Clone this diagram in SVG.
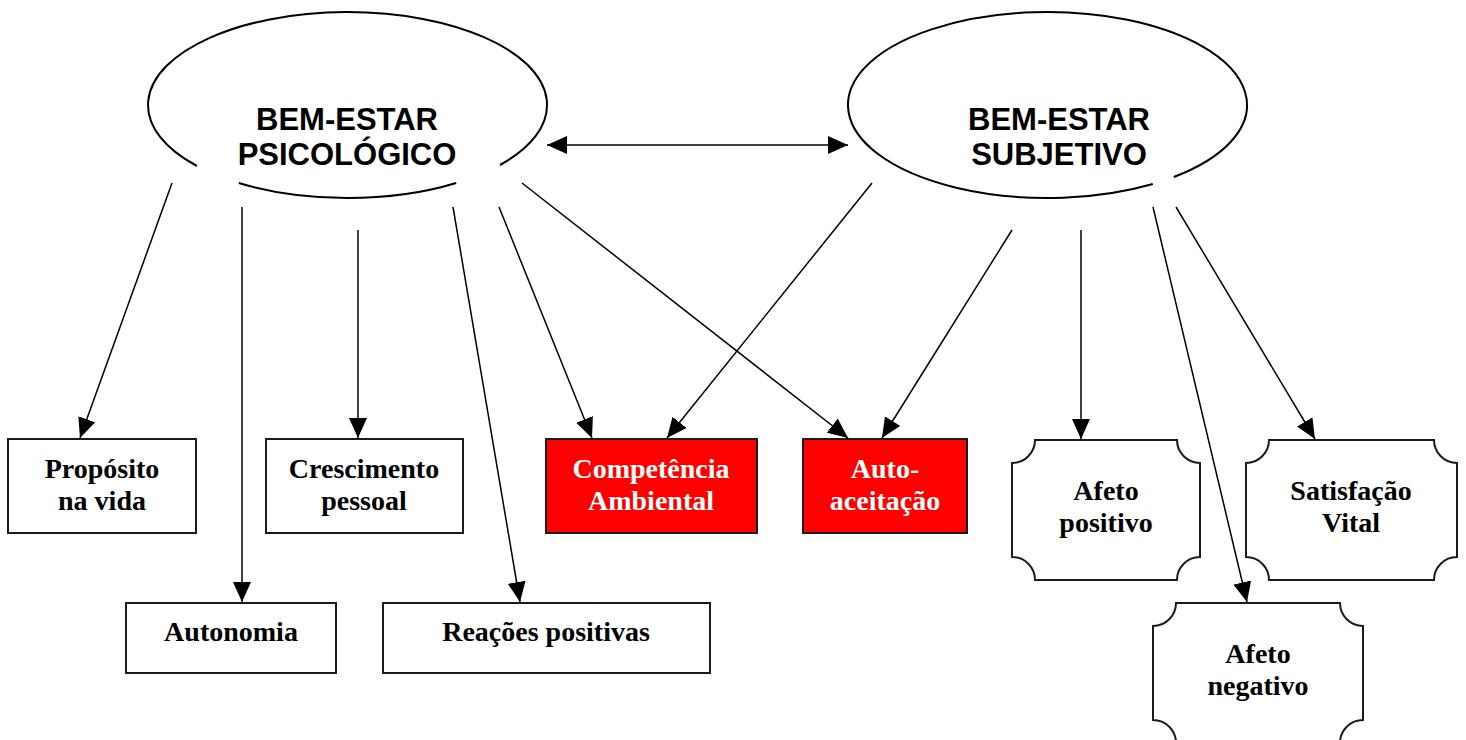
<svg xmlns="http://www.w3.org/2000/svg" width="1466" height="740" viewBox="0 0 1466 740">
<style>
.ell{fill:none;stroke:#000;stroke-width:2}
.box{fill:#fff;stroke:#1a1a1a;stroke-width:2}
.red{fill:#ff0000;stroke:#1a1a1a;stroke-width:2}
.ht{font-family:"Liberation Sans",Arial,sans-serif;font-weight:bold;font-size:31px;fill:#000;text-anchor:middle}
.bt{font-family:"Liberation Serif","Times New Roman",serif;font-weight:bold;font-size:28px;fill:#000;text-anchor:middle}
.wt{fill:#fff}
.con line{stroke:#000;stroke-width:1.5;marker-end:url(#ah)}
</style>
<defs>
<marker id="ah" viewBox="0 0 20 18" refX="20" refY="9" markerWidth="20" markerHeight="18" markerUnits="userSpaceOnUse" orient="auto-start-reverse">
<path d="M0,0 L20,9 L0,18 Z" fill="#000"/>
</marker>
</defs>
<rect width="1466" height="740" fill="#fff"/>
<g id="psicologico">
<path class="ell" d="M500,165 A199.5,93 0 1 0 196.9,166"/>
<path class="ell" d="M238.8,183 A199.5,93 0 0 0 456.2,183"/>
<text class="ht" x="347" y="130">BEM-ESTAR</text>
<text class="ht" x="347" y="165">PSICOLÓGICO</text>
</g>
<g id="subjetivo">
<path class="ell" d="M1173.8,177 A199.5,93 0 1 0 1152.8,184"/>
<text class="ht" x="1059" y="130">BEM-ESTAR</text>
<text class="ht" x="1059" y="165">SUBJETIVO</text>
</g>
<g id="proposito">
<rect class="box" x="8" y="439" width="188" height="94"/>
<text class="bt" x="102" y="478">Propósito</text>
<text class="bt" x="102" y="510">na vida</text>
</g>
<g id="crescimento">
<rect class="box" x="266" y="439" width="197" height="94"/>
<text class="bt" x="364" y="478">Crescimento</text>
<text class="bt" x="364" y="510">pessoal</text>
</g>
<g id="autonomia">
<rect class="box" x="126" y="603" width="210" height="70"/>
<text class="bt" x="231" y="641">Autonomia</text>
</g>
<g id="reacoes">
<rect class="box" x="383" y="603" width="327" height="70"/>
<text class="bt" x="546" y="641">Reações positivas</text>
</g>
<g id="competencia">
<rect class="red" x="546" y="439" width="211" height="94"/>
<text class="bt wt" x="651" y="478">Competência</text>
<text class="bt wt" x="651" y="510">Ambiental</text>
</g>
<g id="autoaceitacao">
<rect class="red" x="803" y="439" width="164" height="94"/>
<text class="bt wt" x="885" y="478">Auto-</text>
<text class="bt wt" x="885" y="510">aceitação</text>
</g>
<g id="afetopositivo">
<path class="box" d="M1035,440 H1177 A23,23 0 0 0 1200,463 V557 A23,23 0 0 0 1177,580 H1035 A23,23 0 0 0 1012,557 V463 A23,23 0 0 0 1035,440 Z"/>
<text class="bt" x="1106" y="500">Afeto</text>
<text class="bt" x="1106" y="532">positivo</text>
</g>
<g id="satisfacao">
<path class="box" d="M1269,440 H1434 A23,23 0 0 0 1457,463 V557 A23,23 0 0 0 1434,580 H1269 A23,23 0 0 0 1246,557 V463 A23,23 0 0 0 1269,440 Z"/>
<text class="bt" x="1351" y="500">Satisfação</text>
<text class="bt" x="1351" y="532">Vital</text>
</g>
<g id="afetonegativo">
<path class="box" d="M1176,603 H1340 A23,23 0 0 0 1363,626 V720 A23,23 0 0 0 1340,743 H1176 A23,23 0 0 0 1153,720 V626 A23,23 0 0 0 1176,603 Z"/>
<text class="bt" x="1258" y="663">Afeto</text>
<text class="bt" x="1258" y="695">negativo</text>
</g>
<g id="connectors" class="con">
<line x1="172" y1="183" x2="80" y2="438"/>
<line x1="242" y1="207" x2="242" y2="602"/>
<line x1="358" y1="230" x2="358" y2="438"/>
<line x1="453" y1="207" x2="520" y2="602"/>
<line x1="499" y1="207" x2="592" y2="438"/>
<line x1="522" y1="183" x2="848" y2="438"/>
<line x1="872" y1="183" x2="667" y2="438"/>
<line x1="1012" y1="230" x2="882" y2="438"/>
<line x1="1081" y1="230" x2="1081" y2="439"/>
<line x1="1153" y1="207" x2="1247" y2="602"/>
<line x1="1176" y1="207" x2="1315" y2="439"/>
<line x1="547" y1="145" x2="848" y2="145" style="marker-start:url(#ah)"/>
</g>
</svg>
